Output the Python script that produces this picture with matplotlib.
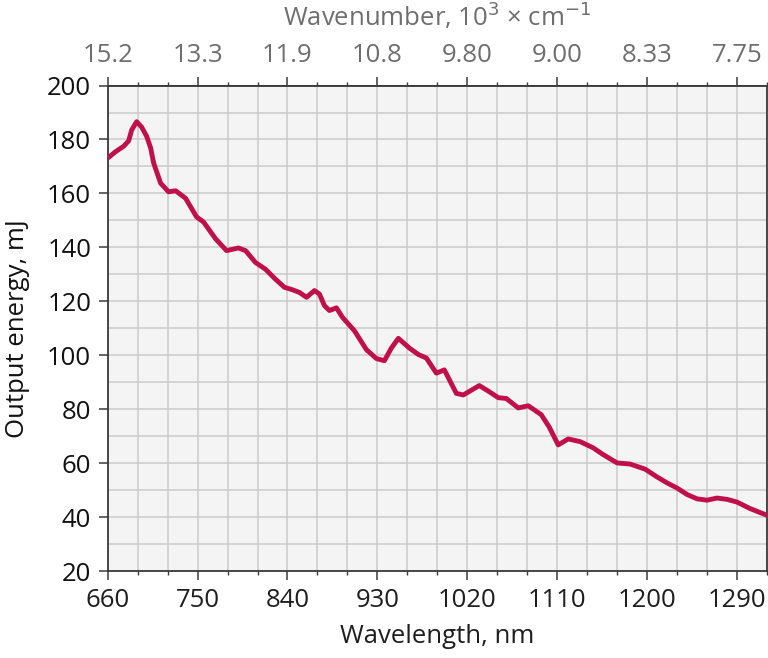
"""Output energy vs wavelength, with a wavenumber axis on top."""
import matplotlib
matplotlib.use('Agg')
import matplotlib.pyplot as plt
from matplotlib.ticker import MultipleLocator

# values
wavelength_nm = [660, 668, 676, 681, 684, 689, 694, 699, 703, 706, 713, 721, 728, 738, 749,
                 756, 768, 779, 791, 798, 808, 818, 828, 837, 845, 852, 859, 867, 872, 877,
                 882, 889, 895, 907, 919, 929, 937, 944, 951, 962, 971, 979, 989, 997, 1009,
                 1016, 1032, 1042, 1051, 1059, 1071, 1081, 1094, 1102, 1111, 1121, 1133,
                 1146, 1156, 1170, 1183, 1198, 1210, 1220, 1230, 1240, 1250, 1260, 1270,
                 1280, 1290, 1303, 1320]
energy_mj = [173.1, 175.5, 177.5, 179.5, 183.5, 186.6, 184.6, 181.2, 176.9, 171.3, 163.8,
             160.6, 161.0, 158.2, 151.3, 149.4, 143.2, 138.8, 139.8, 138.8, 134.4, 131.9,
             128.2, 125.2, 124.3, 123.3, 121.5, 124.0, 122.7, 118.4, 116.6, 117.6, 114.1,
             109.1, 102.1, 98.8, 98.0, 102.7, 106.3, 102.7, 100.3, 99.0, 93.4, 94.6, 85.9,
             85.3, 88.8, 86.5, 84.3, 84.0, 80.5, 81.3, 78.0, 73.4, 66.8, 69.0, 68.0, 65.7,
             63.2, 60.1, 59.7, 57.8, 54.9, 52.7, 50.8, 48.4, 46.8, 46.3, 47.1, 46.6, 45.6,
             43.2, 40.7]

x_ticks = [660, 750, 840, 930, 1020, 1110, 1200, 1290]
top_labels = ['15.2', '13.3', '11.9', '10.8', '9.80', '9.00', '8.33', '7.75']

LINE = '#c0104c'
GRID = '#cbcbcb'
SPINE = '#3a3a3a'
GREY = '#6e6e6e'

plt.rcParams['font.family'] = ['Open Sans', 'DejaVu Sans']
plt.rcParams['font.size'] = 18.5

fig = plt.figure(figsize=(7.68, 6.58), dpi=100)
ax = fig.add_axes([0.1402, 0.1320, 0.8585, 0.7380])
ax.set_facecolor('#f4f4f4')

ax.plot(wavelength_nm, energy_mj, color=LINE, lw=3.5, solid_joinstyle='round',
        solid_capstyle='round', zorder=3)

ax.set_xlim(660, 1320)
ax.set_ylim(20, 200)
ax.set_xticks(x_ticks)
ax.xaxis.set_minor_locator(MultipleLocator(30))
ax.set_yticks(range(20, 201, 20))
ax.yaxis.set_minor_locator(MultipleLocator(10))

ax.grid(True, which='both', color=GRID, lw=1.1, zorder=0)
ax.set_axisbelow(True)

for s in ax.spines.values():
    s.set_color(SPINE)
    s.set_linewidth(1.3)

ax.tick_params(axis='x', which='major', length=6.8, width=1.1, color=SPINE,
               pad=5, labelcolor='#1e1e1e')
ax.tick_params(axis='x', which='minor', length=3.2, width=1.0, color=SPINE)
ax.tick_params(axis='y', which='major', length=6.8, width=1.1, color=SPINE,
               pad=5, labelcolor='#111111')
ax.tick_params(axis='y', which='minor', length=0)

ax.set_xlabel('Wavelength, nm', color='#1e1e1e', labelpad=8)
ax.set_ylabel('Output energy, mJ', color='#111111', labelpad=12)

top = ax.secondary_xaxis('top')
top.set_xticks(x_ticks, labels=top_labels)
top.xaxis.set_minor_locator(MultipleLocator(30))
top.tick_params(which='major', length=6.8, width=1.1, color=SPINE, pad=6, labelcolor=GREY)
top.tick_params(which='minor', length=3.2, width=1.0, color=SPINE)
top.spines['top'].set_color(SPINE)
top.spines['top'].set_linewidth(1.3)
top.set_xlabel('Wavenumber, 10$^3$ × cm$^{-1}$', color=GREY, labelpad=12)

fig.savefig('out.png', dpi=100)
